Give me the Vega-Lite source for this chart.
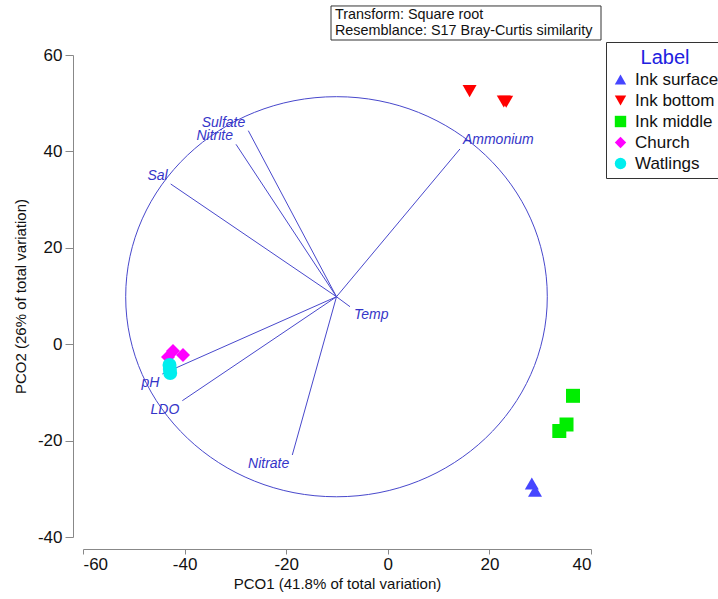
{
  "$schema": "https://vega.github.io/schema/vega-lite/v6.json",
  "width": 508,
  "height": 482,
  "autosize": {"type": "none"},
  "padding": {"left": 83, "top": 55, "right": 127, "bottom": 62},
  "background": "white",
  "config": {
    "view": {"stroke": null},
    "font": "Liberation Sans",
    "axis": {
      "grid": false,
      "domainColor": "#888888",
      "tickColor": "#888888",
      "labelFont": "Liberation Sans",
      "labelFontSize": 17,
      "labelColor": "#111111",
      "labelExpr": "toString(datum.value)",
      "titleFont": "Liberation Sans",
      "titleFontSize": 15,
      "titleFontWeight": "normal",
      "titleColor": "#111111"
    },
    "legend": {
      "strokeColor": "#333333",
      "fillColor": "white",
      "padding": 6,
      "titleFont": "Liberation Sans",
      "titleFontSize": 20,
      "titleFontWeight": "normal",
      "titleColor": "#2020e0",
      "titleAnchor": "middle",
      "titlePadding": 3,
      "labelFont": "Liberation Sans",
      "labelFontSize": 17,
      "labelColor": "#111111",
      "symbolSize": 130,
      "symbolStrokeWidth": 0,
      "rowPadding": 3,
      "labelOffset": 6
    }
  },
  "datasets": {
    "samples": [
      {"Label": "Ink surface", "x": 28.35, "y": -28.9},
      {"Label": "Ink surface", "x": 28.98, "y": -30.41},
      {"Label": "Ink bottom", "x": 16.1, "y": 52.5},
      {"Label": "Ink bottom", "x": 22.83, "y": 50.35},
      {"Label": "Ink bottom", "x": 23.3, "y": 50.3},
      {"Label": "Ink middle", "x": 36.46, "y": -10.71},
      {"Label": "Ink middle", "x": 35.18, "y": -16.66},
      {"Label": "Ink middle", "x": 33.76, "y": -18.01},
      {"Label": "Church", "x": -42.28, "y": -1.41},
      {"Label": "Church", "x": -40.31, "y": -2.24},
      {"Label": "Church", "x": -43.27, "y": -2.66},
      {"Label": "Watlings", "x": -42.97, "y": -4.32},
      {"Label": "Watlings", "x": -42.91, "y": -5.15},
      {"Label": "Watlings", "x": -42.83, "y": -5.98}
    ],
    "vectors": [
      {"var": "Sulfate", "x": -27.46, "y": 44.3},
      {"var": "Nitrite", "x": -29.88, "y": 41.47},
      {"var": "Sal", "x": -42.74, "y": 33.24},
      {"var": "Ammonium", "x": 14.2, "y": 40.5},
      {"var": "Temp", "x": -7.44, "y": 7.78},
      {"var": "pH", "x": -44.39, "y": -6.18},
      {"var": "LDO", "x": -40.45, "y": -11.72},
      {"var": "Nitrate", "x": -18.8, "y": -22.99}
    ],
    "origin": [{"x": -10.1, "y": 9.85}]
  },
  "layer": [
    {
      "data": {"name": "origin"},
      "mark": {
        "type": "point",
        "shape": "M -1 0 A 1 0.949 0 1 0 1 0 A 1 0.949 0 1 0 -1 0 Z",
        "size": 177747,
        "filled": false,
        "stroke": "#4848cc",
        "strokeWidth": 1,
        "opacity": 1
      },
      "encoding": {
        "x": {
          "field": "x", "type": "quantitative",
          "scale": {"domain": [-60, 40], "nice": false, "zero": false},
          "title": "PCO1 (41.8% of total variation)",
          "axis": {"values": [-60, -40, -20, 0, 20, 40], "offset": 12, "tickSize": 5, "labelPadding": 2, "titlePadding": 4}
        },
        "y": {
          "field": "y", "type": "quantitative",
          "scale": {"domain": [-40, 60], "nice": false, "zero": false},
          "title": "PCO2 (26% of total variation)",
          "axis": {"values": [-40, -20, 0, 20, 40, 60], "offset": 10, "tickSize": 8, "labelPadding": 3, "titlePadding": 9}
        }
      }
    },
    {
      "data": {"name": "vectors"},
      "mark": {"type": "rule", "stroke": "#4848cc", "strokeWidth": 1},
      "encoding": {
        "x": {"field": "x", "type": "quantitative", "title": "PCO1 (41.8% of total variation)"},
        "y": {"field": "y", "type": "quantitative", "title": "PCO2 (26% of total variation)"},
        "x2": {"datum": -10.1},
        "y2": {"datum": 9.85}
      }
    },
    {
      "data": {"name": "vectors"},
      "transform": [{"filter": "datum.x < -10.1 && datum.y > 9.85"}],
      "mark": {"type": "text", "align": "right", "baseline": "alphabetic", "dx": -3, "dy": -4, "font": "Liberation Sans", "fontSize": 14, "fontStyle": "italic", "color": "#3535c8"},
      "encoding": {
        "x": {"field": "x", "type": "quantitative", "title": "PCO1 (41.8% of total variation)"},
        "y": {"field": "y", "type": "quantitative", "title": "PCO2 (26% of total variation)"},
        "text": {"field": "var"}
      }
    },
    {
      "data": {"name": "vectors"},
      "transform": [{"filter": "datum.x < -10.1 && datum.y <= 9.85"}],
      "mark": {"type": "text", "align": "right", "baseline": "top", "dx": -3, "dy": 2, "font": "Liberation Sans", "fontSize": 14, "fontStyle": "italic", "color": "#3535c8"},
      "encoding": {
        "x": {"field": "x", "type": "quantitative", "title": "PCO1 (41.8% of total variation)"},
        "y": {"field": "y", "type": "quantitative", "title": "PCO2 (26% of total variation)"},
        "text": {"field": "var"}
      }
    },
    {
      "data": {"name": "vectors"},
      "transform": [{"filter": "datum.x >= -10.1 && datum.y > 9.85"}],
      "mark": {"type": "text", "align": "left", "baseline": "alphabetic", "dx": 3, "dy": -5, "font": "Liberation Sans", "fontSize": 14, "fontStyle": "italic", "color": "#3535c8"},
      "encoding": {
        "x": {"field": "x", "type": "quantitative", "title": "PCO1 (41.8% of total variation)"},
        "y": {"field": "y", "type": "quantitative", "title": "PCO2 (26% of total variation)"},
        "text": {"field": "var"}
      }
    },
    {
      "data": {"name": "vectors"},
      "transform": [{"filter": "datum.x >= -10.1 && datum.y <= 9.85"}],
      "mark": {"type": "text", "align": "left", "baseline": "top", "dx": 4, "dy": 1, "font": "Liberation Sans", "fontSize": 14, "fontStyle": "italic", "color": "#3535c8"},
      "encoding": {
        "x": {"field": "x", "type": "quantitative", "title": "PCO1 (41.8% of total variation)"},
        "y": {"field": "y", "type": "quantitative", "title": "PCO2 (26% of total variation)"},
        "text": {"field": "var"}
      }
    },
    {
      "data": {"name": "samples"},
      "mark": {"type": "point", "filled": true, "opacity": 1, "size": 196, "strokeWidth": 0},
      "encoding": {
        "x": {"field": "x", "type": "quantitative", "title": "PCO1 (41.8% of total variation)"},
        "y": {"field": "y", "type": "quantitative", "title": "PCO2 (26% of total variation)"},
        "color": {
          "field": "Label", "type": "nominal",
          "scale": {"domain": ["Ink surface", "Ink bottom", "Ink middle", "Church", "Watlings"], "range": ["#4646ff", "#ff0000", "#00ee00", "#ff00ff", "#00eeee"]},
          "legend": {"title": "Label", "orient": "none", "legendX": 523, "legendY": -13}
        },
        "shape": {
          "field": "Label", "type": "nominal",
          "scale": {"domain": ["Ink surface", "Ink bottom", "Ink middle", "Church", "Watlings"], "range": ["triangle-up", "triangle-down", "square", "diamond", "circle"]},
          "legend": {"title": "Label", "orient": "none", "legendX": 523, "legendY": -13}
        }
      }
    },
    {
      "data": {"values": [{"note": "annotation"}]},
      "mark": {"type": "rect", "fill": "white", "stroke": "#333333", "strokeWidth": 1},
      "encoding": {
        "x": {"datum": -11.18},
        "x2": {"datum": 41.97},
        "y": {"datum": 70.17},
        "y2": {"datum": 63.11}
      }
    },
    {
      "data": {"values": [{"note": "annotation"}]},
      "mark": {"type": "text", "align": "left", "baseline": "top", "dy": 1, "lineHeight": 16, "font": "Liberation Sans", "fontSize": 14.4, "color": "#111111", "text": ["Transform: Square root", "Resemblance: S17 Bray-Curtis similarity"]},
      "encoding": {
        "x": {"datum": -10.4},
        "y": {"datum": 70.0}
      }
    }
  ]
}
